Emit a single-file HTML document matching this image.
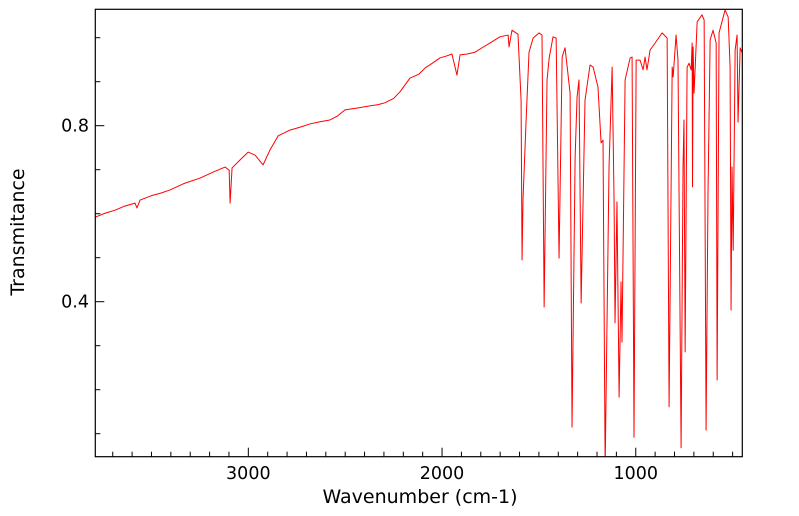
<!DOCTYPE html>
<html><head><meta charset="utf-8"><style>
html,body{margin:0;padding:0;background:#fff;}
svg{display:block;font-family:"DejaVu Sans","Liberation Sans",sans-serif;}
</style></head><body>
<svg id="chart" width="799" height="516">
<defs><clipPath id="plotclip"><rect x="95.3" y="9.3" width="647" height="447.4"/></clipPath></defs>
<g id="ticks"></g>
<path id="spec" fill="none" stroke="#ff0000" stroke-width="1" stroke-linejoin="round" clip-path="url(#plotclip)"/>
<rect x="95.3" y="9.3" width="647" height="447.4" fill="none" stroke="#000" stroke-width="1.2"/>
<text x="420" y="503" font-size="19" text-anchor="middle">Wavenumber (cm-1)</text>
<text transform="translate(24,232) rotate(-90)" font-size="19" text-anchor="middle">Transmitance</text>
</svg>
<script>
const wavenumbers=[3791,3740,3688,3640,3585,3575,3559,3500,3450,3404,3330,3249,3180,3120,3099,3094,3084,3043,3001,2965,2924,2888,2846,2785,2730,2682,2630,2579,2540,2501,2440,2372,2330,2295,2250,2217,2166,2120,2088,2050,2011,1980,1949,1923,1907,1870,1830,1790,1752,1701,1659,1654,1639,1608,1592,1587,1582,1566,1551,1530,1499,1484,1473,1458,1447,1427,1411,1396,1380,1365,1339,1329,1313,1303,1293,1282,1262,1236,1220,1195,1179,1169,1158,1138,1122,1112,1107,1097,1086,1076,1071,1055,1029,1019,1009,998,978,962,952,942,926,900,864,838,828,812,807,792,782,766,756,751,745,735,725,714,709,707,704,699,683,658,647,637,627,616,601,585,580,570,539,523,513,508,503,497,487,477,472,461,451];
const transmittance=[0.592,0.601,0.608,0.617,0.624,0.613,0.631,0.641,0.647,0.654,0.669,0.681,0.695,0.706,0.699,0.624,0.704,0.722,0.740,0.733,0.711,0.745,0.777,0.790,0.797,0.804,0.809,0.813,0.822,0.836,0.840,0.845,0.848,0.852,0.862,0.877,0.908,0.917,0.931,0.942,0.954,0.958,0.963,0.915,0.961,0.963,0.967,0.978,0.988,1.002,1.006,0.979,1.017,1.008,0.858,0.495,0.633,0.813,0.967,0.999,1.011,1.006,0.388,0.904,0.954,1.002,0.999,0.499,0.956,0.977,0.874,0.115,0.729,0.865,0.904,0.397,0.858,0.938,0.933,0.888,0.761,0.767,0.024,0.706,0.933,0.631,0.352,0.627,0.183,0.445,0.308,0.904,0.954,0.956,0.092,0.949,0.949,0.927,0.956,0.927,0.972,0.988,1.011,0.999,0.161,0.933,0.911,1.006,0.949,0.068,0.706,0.813,0.286,0.933,0.942,0.927,0.988,0.661,0.979,0.874,1.036,1.052,1.040,0.108,0.647,0.995,1.017,0.988,0.222,1.011,1.063,1.047,0.933,0.381,0.706,0.517,0.972,1.006,0.808,0.977,0.966];
const xMajorTicks=[3000,2000,1000];
const xMinorTicks=[3700,3600,3500,3400,3300,3200,3100,2900,2800,2700,2600,2500,2400,2300,2200,2100,1900,1800,1700,1600,1500,1400,1300,1200,1100,900,800,700,600,500];
const yMajorTicks=[0.4,0.8];
const yMinorTicks=[0.1,0.2,0.3,0.5,0.6,0.7,0.9,1.0];
const xLabels=["3000","2000","1000"];
const yLabels=["0.4","0.8"];

const X0=95.3,X1=742.3,WN0=3790,WN1=450;
const Y0=456.7,Y1=9.3;
function xs(w){return X0+(WN0-w)/(WN0-WN1)*(X1-X0);}
function ys(t){return 125.7+(0.8-t)*440;}
const NS="http://www.w3.org/2000/svg";
const g=document.getElementById('ticks');
function line(x1,y1,x2,y2,name){const l=document.createElementNS(NS,'line');l.setAttribute('x1',x1);l.setAttribute('y1',y1);l.setAttribute('x2',x2);l.setAttribute('y2',y2);l.setAttribute('stroke','#000');l.setAttribute('stroke-width','1');


g.appendChild(l);}
function txt(x,y,s,anchor,name){const t=document.createElementNS(NS,'text');t.setAttribute('x',x);t.setAttribute('y',y);t.setAttribute('font-size','17.5');t.setAttribute('text-anchor',anchor);t.textContent=s;


g.appendChild(t);}
xMajorTicks.forEach((w,i)=>{const x=xs(w);line(x,Y0,x,Y0-9,'x-major-tick');txt(x,479,xLabels[i],'middle','x-tick-label');});
xMinorTicks.forEach(w=>{const x=xs(w);line(x,Y0,x,Y0-5,'x-minor-tick');});
yMajorTicks.forEach((v,i)=>{const y=ys(v);line(X0,y,X0+9,y,'y-major-tick');txt(89,y+6,yLabels[i],'end','y-tick-label');});
yMinorTicks.forEach(v=>{const y=ys(v);line(X0,y,X0+5,y,'y-minor-tick');});
let d='';
wavenumbers.forEach((w,i)=>{d+=(i?'L':'M')+xs(w).toFixed(2)+','+ys(transmittance[i]).toFixed(2);});
document.getElementById('spec').setAttribute('d',d);
</script>
</body></html>
